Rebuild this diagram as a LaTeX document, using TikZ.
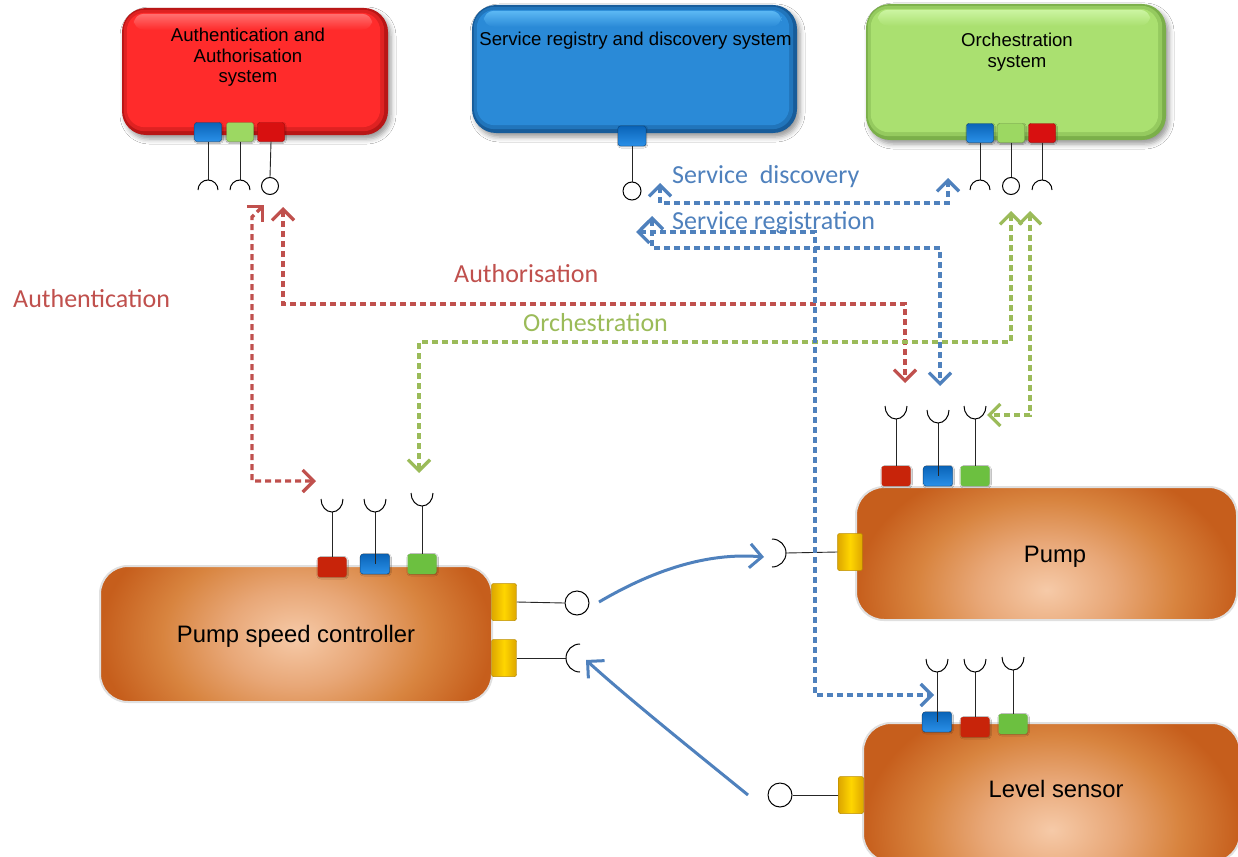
\documentclass[tikz,border=0pt]{standalone}
\usepackage{fontspec}
\setmainfont{Liberation Sans}
\newfontfamily\calfont{Carlito}
\usetikzlibrary{arrows.meta,shadows.blur}

\definecolor{redBase}{HTML}{FF2B2B}
\definecolor{redDark}{HTML}{B81616}
\definecolor{redLight}{HTML}{FF7070}
\definecolor{bluBase}{HTML}{2A8AD7}
\definecolor{bluDark}{HTML}{175C9A}
\definecolor{bluLight}{HTML}{5CB8F4}
\definecolor{grnBase}{HTML}{AAE070}
\definecolor{grnDark}{HTML}{7BAF4A}
\definecolor{grnLight}{HTML}{CCF5A2}
\definecolor{oLight}{HTML}{F6CAA8}
\definecolor{oMid}{HTML}{E8A777}
\definecolor{oDeep}{HTML}{D8843F}
\definecolor{oDark}{HTML}{C65E1C}
\definecolor{pBlueA}{HTML}{0A64B8}
\definecolor{pBlueB}{HTML}{2A90E8}
\definecolor{pRedT}{HTML}{D81010}
\definecolor{pGreenT}{HTML}{9CD862}
\definecolor{pRedB}{HTML}{C8240A}
\definecolor{pGreenB}{HTML}{6CC040}
\definecolor{yelA}{HTML}{FFD600}
\definecolor{yelB}{HTML}{DDA600}
\definecolor{lnRed}{HTML}{C0504D}
\definecolor{lnGreen}{HTML}{9BBB59}
\definecolor{lnBlue}{HTML}{4F81BD}

% warm glow used inside the device boxes
\pgfdeclareradialshading{orangeglow}{\pgfpoint{0bp}{0bp}}{color(0bp)=(oLight); color(9bp)=(oMid); color(17bp)=(oDeep); color(25bp)=(oDark); color(50bp)=(oDark)}

% bevelled face of a system box: #1 node, #2 face colour, #3 rim colour, #4 highlight
\newcommand\sysbevel[4]{%
  \fill[#3,rounded corners=21pt] ([shift={(2,2)}]#1.north west) rectangle ([shift={(-4,-4)}]#1.south east);
  \fill[#2,rounded corners=18pt] ([shift={(5,5)}]#1.north west) rectangle ([shift={(-8,-8)}]#1.south east);
  \shade[top color=#4,bottom color=#2,rounded corners=10pt] ([shift={(12,6)}]#1.north west) rectangle ([shift={(-16,22)}]#1.north east);
}

\begin{document}
\begin{tikzpicture}[x=1pt,y=-1pt,
  sysbox/.style={rectangle, rounded corners=24pt, inner sep=0pt,
    blur shadow={shadow xshift=3pt, shadow yshift=-4pt, shadow blur radius=5pt, shadow opacity=40}},
  systext/.style={font=\fontsize{18.6pt}{20.5pt}\selectfont, align=center, inner sep=0pt, anchor=north},
  devbox/.style={rectangle, rounded corners=28pt, inner sep=0pt, draw=black!12, line width=2pt},
  devtext/.style={font=\fontsize{23.8pt}{26pt}\selectfont, inner sep=0pt, anchor=base},
  port/.style={rectangle, rounded corners=2.5pt, inner sep=0pt, minimum width=27pt, minimum height=19pt,
    blur shadow={shadow xshift=0.6pt, shadow yshift=-0.8pt, shadow blur radius=1.2pt, shadow opacity=35}},
  pblue/.style={port, top color=pBlueA, bottom color=pBlueB, draw=pBlueA!70!black, line width=0.4pt},
  predT/.style={port, fill=pRedT, draw=pRedT!75!black, line width=0.4pt},
  pgreenT/.style={port, fill=pGreenT, draw=pGreenT!75!black, line width=0.4pt},
  predB/.style={port, fill=pRedB, minimum width=29pt, minimum height=20pt},
  pgreenB/.style={port, fill=pGreenB, minimum width=29pt, minimum height=20pt},
  pblueB/.style={pblue, minimum width=29pt, minimum height=20pt},
  yport/.style={rectangle, rounded corners=2pt, inner sep=0pt, minimum width=25pt, minimum height=37pt,
    left color=yelB, right color=yelB, middle color=yelA, draw=yelB!85!black, line width=0.5pt},
  stem/.style={draw=black!85, line width=0.9pt},
  sock/.style={draw=black, line width=1pt},
  lolli/.style={circle, draw=black, line width=1pt, fill=white, inner sep=0pt},
  msg/.style={dash pattern=on 6pt off 4pt, line width=3.3pt,
    {Straight Barb[length=11pt,width=22pt]}-{Straight Barb[length=11pt,width=22pt]}},
  flow/.style={draw=lnBlue, line width=3pt, -{Straight Barb[length=12pt,width=24pt]}},
  lbl/.style={font=\calfont\fontsize{26pt}{30pt}\selectfont, inner sep=0pt, anchor=base west},
]
\useasboundingbox (0,0) rectangle (1238,856);
\fill[white] (0,0) rectangle (1238,856);

% ---------- core systems ----------
\node[sysbox, fill=redDark, minimum width=266pt, minimum height=127pt] (auth) at (255,71.5) {};
\sysbevel{auth}{redBase}{redBase!55!redDark}{redLight}
\node[systext] (authT) at (248,28) {Authentication and\\Authorisation\\system};

\node[sysbox, fill=bluDark, minimum width=325pt, minimum height=128pt] (reg) at (634.5,69) {};
\sysbevel{reg}{bluBase}{bluBase!55!bluDark}{bluLight}
\node[systext] (regT) at (635.5,31.5) {Service registry and discovery system};

\node[sysbox, fill=grnDark, minimum width=300pt, minimum height=136pt] (orch) at (1016,72) {};
\sysbevel{orch}{grnBase}{grnBase!55!grnDark}{grnLight}
\node[systext] (orchT) at (1017,33) {Orchestration\\system};

% ports of the core systems
\node[pblue]   (authPB) at (208,132) {};
\node[pgreenT] (authPG) at (240,132) {};
\node[predT]   (authPR) at (271,132) {};
\node[pblue, minimum width=28pt, minimum height=20pt] (regP) at (632,136) {};
\node[pblue]   (orchPB) at (980,133) {};
\node[pgreenT] (orchPG) at (1011,133) {};
\node[predT]   (orchPR) at (1042,133) {};

% provided / required interfaces of the core systems
\coordinate (authSB) at (208,180);
\coordinate (authSG) at (240,180);
\node[lolli, minimum size=17pt] (authSR) at (270,186) {};
\node[lolli, minimum size=18pt] (regS) at (632,191) {};
\coordinate (orchSB) at (980,180);
\node[lolli, minimum size=17pt] (orchSG) at (1011,186) {};
\coordinate (orchSR) at (1042,180);

\draw[stem] (authPB.south) -- (authSB);
\draw[stem] (authPG.south) -- (authSG);
\draw[stem] (authPR.south) -- (authSR.north);
\draw[stem] (regP.south) -- (regS.north);
\draw[stem] (orchPB.south) -- (orchSB);
\draw[stem] (orchPG.south) -- (orchSG.north);
\draw[stem] (orchPR.south) -- (orchSR);
\foreach \s in {authSB,authSG,orchSB,orchSR}
  \draw[sock] (\s) ++(-10,10) arc[start angle=180,end angle=360,radius=10];

% ---------- application systems ----------
\begin{scope}
  \clip[rounded corners=28pt] (100,566) rectangle (492,702);
  \shade[shading=orangeglow] (100,501) rectangle (492,773);
\end{scope}
\node[devbox, minimum width=392pt, minimum height=136pt] (psc) at (296,634) {};
\node[devtext] (pscT) at (296,642) {Pump speed controller};

\begin{scope}
  \clip[rounded corners=28pt] (856,487) rectangle (1237,620);
  \shade[shading=orangeglow] (856,457) rectangle (1237,723);
\end{scope}
\node[devbox, minimum width=381pt, minimum height=133pt] (pump) at (1046.5,553.5) {};
\node[devtext] (pumpT) at (1055,562) {Pump};

\begin{scope}
  \clip[rounded corners=28pt] (863,723) rectangle (1240,862);
  \shade[shading=orangeglow] (863,691) rectangle (1240,969);
\end{scope}
\node[devbox, minimum width=377pt, minimum height=139pt] (lvl) at (1051.5,792.5) {};
\node[devtext] (lvlT) at (1056,797) {Level sensor};

% management ports of the application systems
\node[predB]   (pscPR) at (332,567) {};
\node[pblueB]  (pscPB) at (375,564) {};
\node[pgreenB] (pscPG) at (422,564) {};
\node[predB]   (pumpPR) at (896,476) {};
\node[pblueB]  (pumpPB) at (938,476) {};
\node[pgreenB] (pumpPG) at (975,476) {};
\node[pblueB]  (lvlPB) at (937,722) {};
\node[predB]   (lvlPR) at (975,727) {};
\node[pgreenB] (lvlPG) at (1013,724) {};

\coordinate (pscSR) at (332,512);
\coordinate (pscSB) at (375,512);
\coordinate (pscSG) at (422,506);
\coordinate (pumpSR) at (896,419);
\coordinate (pumpSB) at (938,423);
\coordinate (pumpSG) at (975,419);
\coordinate (lvlSB) at (937,672);
\coordinate (lvlSR) at (975,672);
\coordinate (lvlSG) at (1013,670);

\draw[stem] (pscSR) -- (pscPR.north);
\draw[stem] (pscSB) -- (pscPB.center);
\draw[stem] (pscSG) -- (pscPG.north);
\draw[stem] (pumpSR) -- (pumpPR.north);
\draw[stem] (pumpSB) -- (pumpPB.center);
\draw[stem] (pumpSG) -- (pumpPG.north);
\draw[stem] (lvlSB) -- (lvlPB.center);
\draw[stem] (lvlSR) -- (lvlPR.north);
\draw[stem] (lvlSG) -- (lvlPG.north);
\foreach \s in {pscSR,pscSB,pscSG,pumpSR,pumpSB,pumpSG,lvlSB,lvlSR,lvlSG}
  \draw[sock] (\s) ++(-11,-13) arc[start angle=180,end angle=0,x radius=11,y radius=13];

% service ports of the application systems
\node[yport] (pscY1) at (504,602) {};
\node[yport] (pscY2) at (504,658) {};
\node[lolli, minimum size=24pt] (pscL) at (577,603) {};
\coordinate (pscS) at (566,658);
\draw[stem] (pscY1.east) -- (pscL.west);
\draw[stem] (pscY2.east) -- (pscS);
\draw[sock] (pscS) ++(14,-14) arc[start angle=270,end angle=90,radius=14];

\node[yport] (pumpY) at (850,552) {};
\coordinate (pumpS) at (786,553);
\draw[stem] (pumpY.west) -- (pumpS);
\draw[sock] (pumpS) ++(-14,-14) arc[start angle=-90,end angle=90,radius=14];

\node[yport] (lvlY) at (851,795) {};
\node[lolli, minimum size=24pt] (lvlL) at (780,795) {};
\draw[stem] (lvlY.west) -- (lvlL.east);

% ---------- core service exchanges ----------
\coordinate (authIn) at (264,205);
\coordinate (pscAuthIn) at (316,481);
\draw[msg, lnRed] (authIn) -- (252,217) -- (252,481) -- (pscAuthIn);

\coordinate (authzIn) at (283,207);
\coordinate (pumpAuthIn) at (905,383);
\draw[msg, lnRed] (authzIn) -- (283,304) -- (905,304) -- (pumpAuthIn);

\coordinate (pscOrchIn) at (419,473);
\coordinate (orchIn) at (1011,211);
\draw[msg, lnGreen] (pscOrchIn) -- (419,342) -- (1011,342) -- (orchIn);

\coordinate (orchIn2) at (1030,211);
\coordinate (pumpOrchIn) at (987,415);
\draw[msg, lnGreen] (orchIn2) -- (1030,415) -- (pumpOrchIn);

\coordinate (regDiscIn) at (660,183);
\coordinate (orchDiscIn) at (948,178);
\draw[msg, lnBlue] (regDiscIn) -- (660,203) -- (948,203) -- (orchDiscIn);

\coordinate (regRegIn) at (652,216);
\coordinate (pumpRegIn) at (940,386);
\draw[msg, lnBlue] (regRegIn) -- (652,248) -- (940,248) -- (pumpRegIn);

\coordinate (regRegIn2) at (636,232);
\coordinate (lvlRegIn) at (934,695);
\draw[msg, lnBlue] (regRegIn2) -- (815,232) -- (815,695) -- (lvlRegIn);

% ---------- application service flows ----------
\coordinate (pscOut) at (599,602);
\coordinate (pumpIn) at (764,557);
\draw[flow] (pscOut) .. controls (650,572) and (705,552) .. (pumpIn);

\coordinate (lvlOut) at (748,795);
\coordinate (pscIn) at (586,660);
\draw[flow] (lvlOut) .. controls (705,760) and (630,700) .. (pscIn);

% ---------- labels ----------
\node[lbl, text=lnRed]   (authnL) at (13,307) {Authentication};
\node[lbl, text=lnRed]   (authzL) at (454,282) {Authorisation};
\node[lbl, text=lnGreen] (orchL)  at (523,331) {Orchestration};
\node[lbl, text=lnBlue]  (discL)  at (672,183) {Service\ \ discovery};
\node[lbl, text=lnBlue]  (regL)   at (672,229) {Service registration};
\end{tikzpicture}
\end{document}
